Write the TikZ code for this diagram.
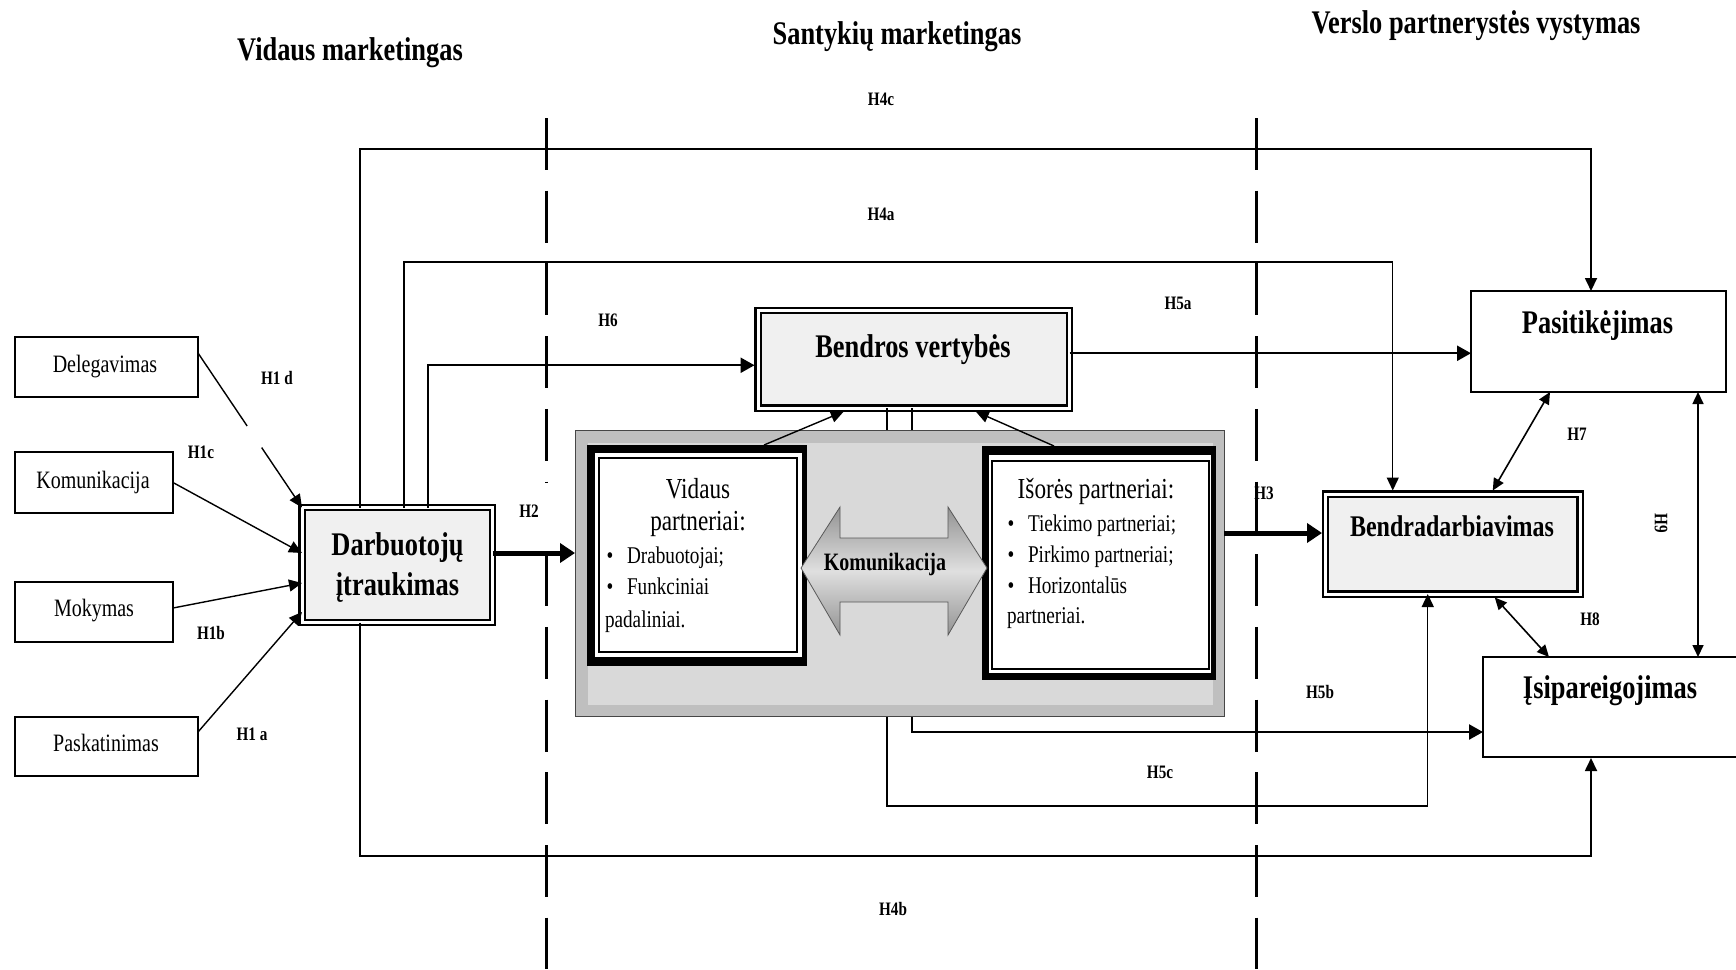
\documentclass[tikz,border=0pt]{standalone}
\usepackage{fontspec}
\setmainfont{Liberation Serif}[FakeStretch=0.8]
\usetikzlibrary{arrows.meta,calc}

\definecolor{boxfill}{HTML}{F0F0F0}
\definecolor{panelout}{HTML}{BFBFBF}
\definecolor{panelin}{HTML}{D9D9D9}

\newcommand{\txtsize}[1]{\fontsize{#1}{#1}\selectfont}

\begin{document}
\begin{tikzpicture}[x=1pt,y=-1pt,
  every node/.style={inner sep=0pt, outer sep=0pt},
  tip/.style={-{Triangle[length=13pt,width=12pt]}},
  tips/.style={{Triangle[length=12pt,width=11pt]}-{Triangle[length=12pt,width=11pt]}},
  conn/.style={line width=1.4pt, tip},
  loop/.style={line width=1.8pt, tip},
  heavy/.style={line width=2.4pt, -{Triangle[length=14pt,width=15pt]}},
  broad/.style={line width=5pt, -{Triangle[length=15pt,width=19pt]}},
  twoway/.style={line width=1.6pt, tips},
  dashline/.style={line width=3pt, dash pattern=on 52pt off 20.7pt},
  thinbox/.style={draw, line width=1.3pt, fill=white},
  dblbox/.style={draw, double, line width=2.2pt, double distance=3pt, fill=boxfill},
  title/.style={font=\txtsize{33}\bfseries, anchor=base},
  big/.style={font=\txtsize{33}\bfseries, anchor=base},
  small/.style={font=\txtsize{25}, anchor=base},
  mid/.style={font=\txtsize{29}, anchor=base},
  item/.style={font=\txtsize{24}, anchor=base west},
  lab/.style={font=\txtsize{19}\bfseries}
]
\useasboundingbox (0,0) rectangle (1736,969);

% column headings
\node[title] (ttl1) at (350,60) {Vidaus marketingas};
\node[title] (ttl2) at (897,44) {Santykių marketingas};
\node[title] (ttl3) at (1476,33) {Verslo partnerystės vystymas};

% column separators
\coordinate (sepAtop) at (546,118);
\coordinate (sepAbot) at (546,969);
\coordinate (sepBtop) at (1256,118);
\coordinate (sepBbot) at (1256,969);
\draw[dashline] (sepAtop) -- (sepAbot);
\draw[dashline] (sepBtop) -- (sepBbot);

% antecedent boxes
\node[thinbox, minimum width=183, minimum height=60] (del) at (106.5,367) {};
\node[thinbox, minimum width=158, minimum height=61] (kom) at (94,482.5) {};
\node[thinbox, minimum width=158, minimum height=60] (mok) at (94,612) {};
\node[thinbox, minimum width=183, minimum height=59] (pask) at (106.5,746.5) {};
\node[small] (tdel) at (105,372) {Delegavimas};
\node[small] (tkom) at (93,488) {Komunikacija};
\node[small] (tmok) at (94,616) {Mokymas};
\node[small] (tpask) at (106,751) {Paskatinimas};

% main construct boxes
\node[dblbox, minimum width=190.5, minimum height=115] (dar) at (397.25,565) {};
\node[dblbox, minimum width=311.5, minimum height=97.5] (bv) at (913.75,359.25) {};
\node[thinbox, minimum width=255, minimum height=101] (pas) at (1598.5,341.5) {};
\node[dblbox, minimum width=254.5, minimum height=100] (bnd) at (1452.75,544) {};
\node[thinbox, minimum width=255, minimum height=100] (isi) at (1610.5,707) {};

% routing points of the long connectors
\coordinate (r4c) at (360,149);
\coordinate (r4b) at (360,856);
\coordinate (r4a) at (404,262);
\coordinate (r6) at (428,365);
\coordinate (r5c) at (887,806);

% connectors running behind the partner panel
\draw[heavy] ([xshift=-2pt]bv.south) |- ([yshift=-25pt]isi.west);
\draw[conn] (bv.south -| r5c) -- (r5c) -| ([xshift=-25pt]bnd.south);

% partner panel
\node[draw=gray!55!black, line width=1pt, fill=panelout, minimum width=649, minimum height=286] (panel) at (899.5,573) {};
\fill[panelin] (588,443) rectangle (1213,705);

\node[fill=black, minimum width=220, minimum height=221] (vid) at (697,555.5) {};
\fill[white] (595,453) rectangle (802,657);
\draw[line width=2pt] (599,458) rectangle (797,652);

\node[fill=black, minimum width=234.5, minimum height=234] (isr) at (1098.75,563) {};
\fill[white] (988.5,455) rectangle (1211,673);
\draw[line width=2pt] (992,461) rectangle (1209,668.5);

% communication block arrow
\path[draw=gray!70!black, line width=0.8pt, top color=gray!85, bottom color=gray!85, middle color=gray!25]
  (801,568) -- (840,507) -- (840,538) -- (948,538) -- (948,507) -- (987,568)
  -- (948,635) -- (948,602) -- (840,602) -- (840,635) -- cycle;
\node[font=\txtsize{25}\bfseries, anchor=base] (tkomarr) at (885,570) {Komunikacija};

% texts of the partner boxes
\node[mid] (tvid1) at (698,498) {Vidaus};
\node[mid] (tvid2) at (698,530) {partneriai:};
\node[item] (tvid3) at (606.6,563) {\textbullet\hspace{13.7pt}Drabuotojai;};
\node[item] (tvid4) at (606.6,594) {\textbullet\hspace{13.7pt}Funkciniai};
\node[item] (tvid5) at (605,627) {padaliniai.};

\node[mid] (tisr1) at (1096,498) {Išorės partneriai:};
\node[item] (tisr2) at (1007.6,531) {\textbullet\hspace{13.7pt}Tiekimo partneriai;};
\node[item] (tisr3) at (1007.6,562) {\textbullet\hspace{13.7pt}Pirkimo partneriai;};
\node[item] (tisr4) at (1007.6,593) {\textbullet\hspace{13.7pt}Horizontalūs};
\node[item] (tisr5) at (1007,623) {partneriai.};

% construct names
\node[big] (tdar1) at (397.5,555) {Darbuotojų};
\node[big] (tdar2) at (397.5,595) {įtraukimas};
\node[big] (tbv) at (913,357) {Bendros vertybės};
\node[big] (tpas) at (1597.5,333) {Pasitikėjimas};
\node[font=\txtsize{30}\bfseries, anchor=base] (tbnd) at (1452,536) {Bendradarbiavimas};
\node[big] (tisi) at (1610,698) {Įsipareigojimas};

% H1a-H1d
\draw[conn, dash pattern=on 88pt off 26pt on 300pt] ([yshift=14pt]del.east) -- (dar.north west);
\draw[conn] (kom.east) -- ([yshift=12pt]dar.west);
\draw[conn] ([yshift=4pt]mok.east) -- ([yshift=-18pt]dar.west);
\draw[conn] ([yshift=14.5pt]pask.east) -- ([yshift=-47pt]dar.west);

% H2, H3
\draw[broad] ([yshift=12pt]dar.east) -- ([yshift=12pt]dar.east -| panel.west);
\draw[broad] ([yshift=40pt]panel.east) -- ([yshift=40pt,xshift=-3.5pt]panel.east -| bnd.west);

% H4a, H4b, H4c
\draw[loop] (dar.north -| r4c) -- (r4c) -| ([xshift=-7.5pt]pas.north);
\draw[loop] (dar.south -| r4b) -- (r4b) -| ([xshift=-19.5pt,yshift=-1pt]isi.south);
\draw[conn] (dar.north -| r4a) -- (r4a) -| ([xshift=-60pt,yshift=3.5pt]bnd.north);

% H6, H5a
\draw[heavy] (dar.north -| r6) |- ([yshift=-6pt,xshift=-3.5pt]bv.west);
\draw[heavy] ([yshift=6pt]bv.east) -- ([yshift=6pt]bv.east -| pas.west);

% partner boxes towards shared values
\draw[conn] ([xshift=67pt]vid.north) -- ([xshift=-70pt,yshift=-3.5pt]bv.south);
\draw[conn] ([xshift=-44.75pt]isr.north) -- ([xshift=62pt,yshift=-3.5pt]bv.south);

% H7, H8, H9
\draw[twoway] ([xshift=-48.5pt]pas.south) -- ([xshift=40pt,yshift=3.5pt]bnd.north);
\draw[twoway] ([xshift=42pt,yshift=-3.5pt]bnd.south) -- ([xshift=-61.5pt]isi.north);
\draw[twoway] ([xshift=99.5pt]pas.south) -- ([xshift=87.5pt]isi.north);

% hypothesis labels
\node[lab] (l4c) at (881,99) {H4c};
\node[lab] (l4a) at (881,214) {H4a};
\node[lab] (l6) at (608,320) {H6};
\node[lab] (l5a) at (1178,303) {H5a};
\node[lab] (l1d) at (277,378) {H1 d};
\node[lab] (l1c) at (201,452) {H1c};
\node[lab, fill=white, minimum width=60, minimum height=56] (l2) at (529,511) {H2};
\node[lab] (l1b) at (211,633) {H1b};
\node[lab] (l1a) at (252,734) {H1 a};
\node[lab] (l3) at (1264,493) {H3};
\node[lab] (l7) at (1577,434) {H7};
\node[lab, rotate=-90] (l9) at (1661,523) {H9};
\node[lab] (l8) at (1590,619) {H8};
\node[lab] (l5b) at (1320,692) {H5b};
\node[lab] (l5c) at (1160,772) {H5c};
\node[lab] (l4b) at (893,909) {H4b};
\end{tikzpicture}
\end{document}
